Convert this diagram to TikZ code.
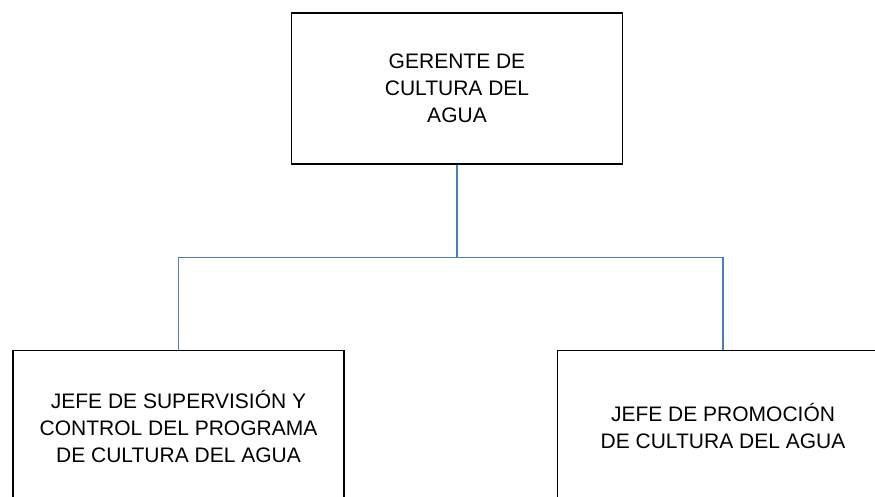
\documentclass[tikz,border=0pt]{standalone}
\usepackage{fontspec}
\setmainfont{Liberation Sans}
\usepackage{tikz}
\definecolor{linkblue}{RGB}{74,126,187}

\begin{document}
\begin{tikzpicture}[x=1pt, y=-1pt,
  puesto/.style={draw, line width=1.3pt, inner sep=0pt, minimum width=331pt, minimum height=151pt, align=center, font=\fontsize{21}{27}\selectfont},
  link/.style={draw=linkblue, line width=1.2pt}]
\useasboundingbox (0,0) rectangle (875,496);
\node[puesto] (gerente) at (457,88.5) {GERENTE DE\\CULTURA DEL\\AGUA};
\node[puesto] (supervision) at (178.5,426) {JEFE DE SUPERVISIÓN Y\\CONTROL DEL PROGRAMA\\DE CULTURA DEL AGUA};
\node[puesto] (promocion) at (723,426) {JEFE DE PROMOCIÓN\\DE CULTURA DEL AGUA};
\draw[link] (gerente.south) -- ++(0,93) -| (supervision.north);
\draw[link] (gerente.south) ++(0,93) -| (promocion.north);
\end{tikzpicture}
\end{document}
